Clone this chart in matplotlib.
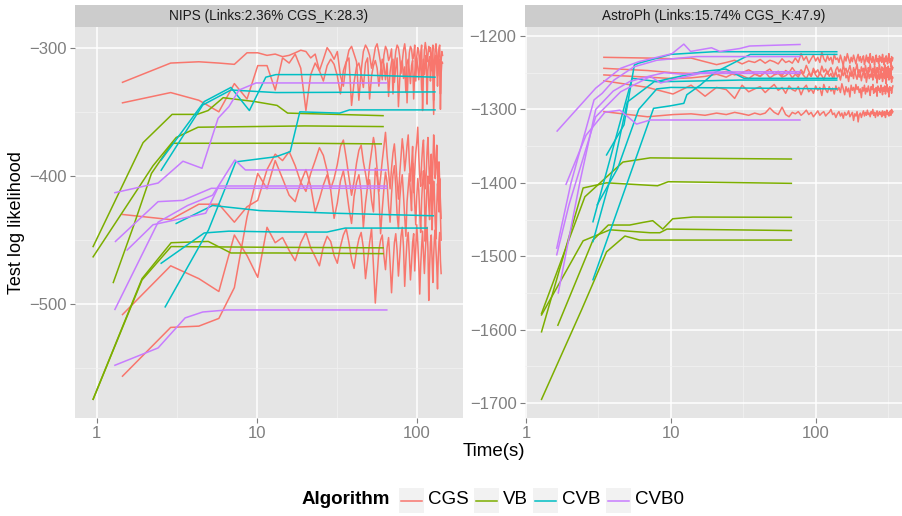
import numpy as np
import matplotlib
matplotlib.use('Agg')
import matplotlib.pyplot as plt
from matplotlib.patches import Rectangle
from matplotlib.lines import Line2D
from matplotlib.ticker import FuncFormatter, NullFormatter

plt.rcParams['font.family'] = ['Liberation Sans', 'DejaVu Sans']

# === Algorithms / colours ===
ALGOS = ['CGS', 'VB', 'CVB', 'CVB0']
COLORS = {'CGS': '#F8766D', 'VB': '#7CAE00', 'CVB': '#00BFC4', 'CVB0': '#C77CFF'}

# === NIPS panel ===
# CGS runs: one value per iteration, iterations every nips_cgs_dt seconds
nips_cgs_dt = 1.45
nips_cgs_1 = [-327, -312, -311, -312, -313, -304, -304, -306, -305, -307,
              -306, -304, -302, -303, -308, -305, -318, -309, -300, -304,
              -309, -303, -322, -330, -312, -302, -299, -305, -311, -341,
              -318, -303, -298, -301, -306, -316, -309, -300, -297, -304,
              -312, -325, -306, -299, -302, -310, -307, -301, -336, -314,
              -303, -298, -300, -307, -320, -311, -302, -297, -305, -343,
              -318, -304, -299, -301, -309, -306, -298, -326, -307, -300,
              -303, -314, -305, -298, -349, -320, -302, -296, -301, -311,
              -306, -299, -303, -300, -318, -305, -298, -341, -312, -301,
              -297, -304, -322, -308, -300, -298, -336, -310, -303, -306]
nips_cgs_2 = [-343, -335, -341, -350, -328, -340, -314, -314, -333, -308,
              -312, -305, -316, -349, -321, -312, -318, -326, -314, -309,
              -313, -322, -336, -318, -311, -308, -345, -327, -315, -312,
              -320, -331, -312, -308, -340, -322, -314, -310, -316, -330,
              -318, -309, -313, -325, -312, -338, -319, -311, -309, -327,
              -316, -308, -346, -325, -313, -310, -324, -315, -335, -312,
              -309, -318, -328, -314, -310, -340, -320, -312, -308, -315,
              -325, -313, -310, -333, -316, -309, -321, -312, -306, -344,
              -318, -310, -307, -326, -313, -308, -320, -352, -322, -311,
              -306, -314, -330, -316, -309, -312, -348, -320, -311, -312]
nips_cgs_3 = [-430, -434, -422, -422, -436, -424, -419, -395, -383, -388,
              -381, -392, -405, -412, -398, -388, -378, -384, -396, -410,
              -402, -391, -377, -372, -386, -401, -415, -404, -390, -380,
              -376, -389, -398, -408, -392, -381, -370, -378, -395, -412,
              -401, -388, -377, -366, -384, -397, -410, -394, -382, -375,
              -389, -404, -418, -398, -385, -371, -380, -396, -387, -376,
              -368, -389, -404, -392, -377, -413, -396, -382, -374, -362,
              -384, -400, -408, -390, -378, -372, -395, -410, -399, -381,
              -370, -388, -406, -396, -383, -415, -392, -368, -380, -402,
              -391, -376, -398, -412, -389, -405, -420, -433]
nips_cgs_4 = [-508, -470, -480, -490, -446, -462, -479, -440, -452, -448,
              -458, -466, -452, -444, -456, -463, -470, -455, -447, -451,
              -462, -468, -455, -446, -441, -452, -465, -472, -458, -449,
              -444, -456, -480, -466, -452, -441, -470, -499, -478, -458,
              -450, -446, -462, -473, -456, -448, -468, -491, -470, -452,
              -445, -458, -478, -463, -447, -440, -455, -486, -466, -450,
              -444, -462, -481, -468, -452, -445, -474, -457, -438, -452,
              -468, -492, -470, -455, -443, -461, -476, -459, -447, -440,
              -456, -497, -471, -452, -446, -465, -483, -462, -448, -442,
              -458, -470, -488, -463, -451, -444, -466, -476]
nips_cgs_5 = [-556, -518, -517, -511, -487, -432, -398, -410, -388, -402,
              -415, -420, -405, -395, -408, -428, -418, -407, -399, -411,
              -433, -421, -404, -396, -409, -425, -437, -416, -405, -399,
              -412, -440, -421, -408, -403, -419, -428, -394, -401, -415,
              -445, -426, -410, -397, -405, -423, -436, -414, -399, -392,
              -408, -430, -441, -418, -406, -399, -415, -432, -447, -420,
              -409, -398, -413, -427, -390, -404, -422, -438, -416, -402,
              -411, -429, -444, -419, -405, -396, -414, -451, -425, -408,
              -400, -423, -434, -410, -395, -442, -421, -404, -416, -437,
              -449, -424, -406, -413, -428, -402, -431, -450]

nips_vb_1_t = [0.95, 1.95, 2.96, 4.24, 4.97, 6.17, 9.7, 13.4, 15.6, 31.6, 61.6]
nips_vb_1_y = [-455, -374, -352, -352, -349, -339, -342, -345, -351, -352, -353]
nips_vb_2_t = [0.95, 2.25, 3.14, 4.3, 20, 61.6]
nips_vb_2_y = [-463, -392, -370, -362, -361, -361.5]
nips_vb_3_t = [1.27, 1.71, 2.2, 2.96, 20, 60]
nips_vb_3_y = [-483, -438, -398, -374.5, -374.5, -375]
nips_vb_4_t = [0.95, 1.92, 2.92, 4.98, 6.9, 13.3, 61.6]
nips_vb_4_y = [-574, -480, -452, -451, -460, -460, -460.5]
nips_vb_5_t = [0.95, 1.92, 2.92, 10, 61.6]
nips_vb_5_y = [-574, -481, -455, -455.5, -456]

nips_cvb_1_t = [2.53, 4.6, 6.9, 13.2, 130]
nips_cvb_1_y = [-395.5, -344.7, -333, -335, -334.5]
nips_cvb_2_t = [2.53, 4.7, 6.9, 9.0, 11.4, 13.2, 36.6, 130]
nips_cvb_2_y = [-387.5, -342, -331, -349, -323, -321, -321, -323]
nips_cvb_3_t = [2.68, 5.0, 7.4, 13.2, 16.2, 18.6, 33, 38, 130]
nips_cvb_3_y = [-502, -442, -389, -385, -381, -350, -351, -348.5, -348.5]
nips_cvb_4_t = [3.14, 5.3, 10.5, 30, 127]
nips_cvb_4_y = [-437, -423, -427, -429, -431]
nips_cvb_5_t = [2.53, 4.7, 6.7, 13.2, 27.5, 35.7, 116]
nips_cvb_5_y = [-468, -444.4, -443, -443.6, -443.7, -440.6, -440.6]

nips_cvb0_1_t = [1.3, 2.42, 3.46, 4.55, 5.74, 6.7, 7.76, 9.9, 65]
nips_cvb0_1_y = [-413, -405.5, -388.5, -394, -355, -346, -333, -327.5, -327.5]
nips_cvb0_2_t = [1.31, 2.42, 3.46, 5.2, 6.5, 65]
nips_cvb0_2_y = [-451, -420, -419, -409.6, -409.6, -409.6]
nips_cvb0_3_t = [1.55, 2.25, 4.8, 5.8, 65]
nips_cvb0_3_y = [-457.7, -438, -429, -407.8, -407.8]
nips_cvb0_4_t = [1.3, 2.42, 3.7, 5.3, 7.3, 8.5, 65]
nips_cvb0_4_y = [-504, -436, -423, -415, -387.5, -395.3, -395.3]
nips_cvb0_5_t = [1.3, 2.42, 3.57, 4.6, 6.5, 65]
nips_cvb0_5_y = [-547.5, -534, -510.6, -506, -504.4, -504.4]

# === AstroPh panel ===
astro_cgs_dt = 3.45
astro_cgs_1 = [-1229, -1230, -1231, -1230, -1235, -1239,
               -1236, -1233, -1238, -1234, -1236, -1232, -1237, -1233, -1235, -1238, -1231, -1236, -1234, -1237,
               -1230, -1236, -1224, -1233, -1228, -1237, -1231, -1226, -1234, -1229, -1236, -1222, -1231, -1235, -1227, -1233, -1229, -1238, -1225, -1232,
               -1230, -1236, -1226, -1233, -1240, -1228, -1234, -1224, -1231, -1237, -1229, -1235, -1226, -1232, -1238, -1230, -1225, -1234, -1228, -1236,
               -1231, -1227, -1239, -1233, -1226, -1235, -1229, -1237, -1224, -1232, -1236, -1228, -1233, -1240, -1230, -1226, -1235, -1231, -1238, -1227,
               -1234, -1229, -1236, -1225, -1232, -1239, -1230, -1235, -1227, -1233, -1238, -1229, -1224, -1236, -1231, -1242, -1228, -1234, -1230]
astro_cgs_2 = [-1244, -1247, -1250, -1251, -1249, -1252,
               -1248, -1253, -1250, -1246, -1251, -1255, -1249, -1245, -1252, -1248, -1254, -1247, -1250, -1243,
               -1249, -1253, -1246, -1251, -1240, -1248, -1255, -1244, -1250, -1246, -1253, -1241, -1249, -1245, -1252, -1247, -1243, -1250, -1256, -1246,
               -1242, -1249, -1245, -1252, -1239, -1247, -1244, -1251, -1246, -1240, -1248, -1254, -1243, -1249, -1245, -1238, -1250, -1246, -1253, -1242,
               -1248, -1244, -1251, -1240, -1247, -1255, -1243, -1249, -1238, -1246, -1252, -1244, -1250, -1241, -1247, -1257, -1243, -1249, -1245, -1239,
               -1248, -1253, -1242, -1247, -1244, -1251, -1239, -1246, -1256, -1243, -1249, -1241, -1248, -1254, -1244, -1250, -1240, -1246, -1243]
astro_cgs_3 = [-1253, -1256, -1258, -1257, -1255, -1252,
               -1256, -1250, -1254, -1258, -1252, -1255, -1249, -1257, -1253, -1251, -1256, -1254, -1250, -1257,
               -1252, -1256, -1249, -1254, -1258, -1251, -1255, -1247, -1253, -1257, -1250, -1254, -1259, -1252, -1248, -1255, -1251, -1257, -1253, -1249,
               -1256, -1252, -1260, -1250, -1254, -1247, -1257, -1253, -1262, -1249, -1255, -1251, -1258, -1246, -1254, -1259, -1250, -1256, -1252, -1261,
               -1253, -1248, -1257, -1251, -1263, -1255, -1249, -1258, -1252, -1256, -1246, -1260, -1253, -1250, -1257, -1251, -1264, -1254, -1248, -1259,
               -1252, -1257, -1250, -1262, -1255, -1248, -1258, -1253, -1265, -1251, -1256, -1249, -1260, -1254, -1258, -1250, -1263, -1255, -1257]
astro_cgs_4 = [-1261, -1270, -1279, -1267, -1282, -1270,
               -1273, -1285, -1267, -1276, -1272, -1269, -1277, -1271, -1266, -1274, -1270, -1278, -1268, -1273,
               -1275, -1269, -1280, -1271, -1267, -1276, -1272, -1278, -1268, -1274, -1270, -1281, -1266, -1273, -1277, -1269, -1275, -1271, -1279, -1268,
               -1274, -1270, -1277, -1265, -1272, -1280, -1269, -1276, -1271, -1283, -1267, -1274, -1270, -1278, -1266, -1273, -1269, -1277, -1272, -1284,
               -1270, -1275, -1267, -1279, -1271, -1276, -1268, -1274, -1281, -1269, -1273, -1266, -1278, -1272, -1276, -1270, -1282, -1268, -1274, -1271,
               -1277, -1267, -1273, -1280, -1270, -1275, -1268, -1279, -1272, -1266, -1276, -1271, -1283, -1269, -1274, -1270, -1278, -1272, -1268]
astro_cgs_5 = [-1303, -1310, -1307, -1306, -1308, -1305,
               -1307, -1304, -1306, -1308, -1305, -1307, -1305, -1298, -1304, -1307, -1297, -1307, -1310, -1304,
               -1306, -1303, -1308, -1305, -1301, -1307, -1304, -1310, -1306, -1302, -1308, -1305, -1303, -1309, -1306, -1304, -1300, -1307, -1305, -1311,
               -1306, -1303, -1309, -1305, -1312, -1304, -1308, -1306, -1302, -1310, -1307, -1304, -1315, -1306, -1309, -1303, -1317, -1307, -1305, -1311,
               -1306, -1302, -1309, -1304, -1308, -1301, -1307, -1305, -1310, -1303, -1306, -1300, -1308, -1304, -1311, -1305, -1302, -1309, -1306, -1303,
               -1307, -1304, -1310, -1302, -1306, -1308, -1303, -1311, -1305, -1301, -1307, -1304, -1309, -1306, -1302, -1308, -1300, -1305, -1303]

astro_vb_1_t = [1.28, 2.55, 4.67, 7.2, 68]
astro_vb_1_y = [-1578, -1419, -1371.7, -1366, -1367.6]
astro_vb_2_t = [1.28, 2.48, 3.6, 8.1, 9.6, 68]
astro_vb_2_y = [-1603, -1407, -1400, -1404, -1398.5, -1400.7]
astro_vb_3_t = [1.66, 2.9, 3.7, 5.2, 6.4, 7.5, 8.8, 10.3, 14.2, 68]
astro_vb_3_y = [-1594, -1478, -1457.5, -1457.5, -1454, -1451.6, -1463, -1449, -1446.6, -1447]
astro_vb_4_t = [1.28, 2.48, 3.8, 7.2, 8.4, 9.4, 68]
astro_vb_4_y = [-1580, -1479, -1464, -1468, -1468, -1463, -1465]
astro_vb_5_t = [1.28, 2.42, 3.6, 4.82, 6.1, 68]
astro_vb_5_y = [-1695, -1573, -1494, -1472.5, -1478, -1478]

astro_cvb_1_t = [3.6, 4.75, 5.6, 6.0, 10, 19.8, 140]
astro_cvb_1_y = [-1362, -1321, -1239.5, -1237, -1225, -1221.4, -1221.4]
astro_cvb_2_t = [2.9, 7.6, 10, 12.3, 12.9, 16, 20, 35.4, 140]
astro_cvb_2_y = [-1532, -1298.5, -1295, -1291.7, -1280, -1266.8, -1250, -1225, -1225]
astro_cvb_3_t = [2.9, 5.4, 8.0, 10, 17, 24, 32, 140]
astro_cvb_3_y = [-1453, -1257.6, -1262, -1257.6, -1248, -1245, -1257.6, -1257.6]
astro_cvb_4_t = [2.9, 4.0, 5.0, 7.7, 10, 30, 140]
astro_cvb_4_y = [-1480, -1380, -1290, -1262, -1262, -1260, -1260]
astro_cvb_5_t = [3.1, 4.3, 6.0, 8.0, 10, 140]
astro_cvb_5_y = [-1430, -1380, -1300, -1272, -1270, -1272]

astro_cvb0_1_t = [1.64, 3.03, 4.5, 6.0, 10.2, 12.3, 13.7, 19.1, 21.8, 30, 35, 78]
astro_cvb0_1_y = [-1329.5, -1271, -1244, -1235, -1224, -1211, -1221, -1216, -1221, -1217, -1213.6, -1211.5]
astro_cvb0_2_t = [1.63, 2.04, 2.95, 3.36, 4.05, 5.56, 8.0, 15, 78]
astro_cvb0_2_y = [-1489, -1401, -1287, -1278, -1260, -1242, -1233, -1228, -1228]
astro_cvb0_3_t = [1.63, 1.98, 3.03, 4.5, 7.25, 8.5, 11, 16, 78]
astro_cvb0_3_y = [-1498, -1430, -1310, -1276, -1255, -1264, -1258, -1251, -1250.8]
astro_cvb0_4_t = [1.67, 2.35, 3.03, 4.0, 5.2, 7, 9, 12, 20, 78]
astro_cvb0_4_y = [-1550, -1400, -1300, -1275, -1262, -1255, -1250, -1252, -1249, -1248.6]
astro_cvb0_5_t = [1.89, 2.6, 3.5, 4.45, 5.8, 7.2, 78]
astro_cvb0_5_y = [-1402, -1335, -1304, -1301, -1320, -1314.4, -1314.4]


def cgs_run(dt, values):
    t = dt * np.arange(1, len(values) + 1)
    return ('CGS', t, values)


nips_series = [cgs_run(nips_cgs_dt, v) for v in
               [nips_cgs_1, nips_cgs_2, nips_cgs_3, nips_cgs_4, nips_cgs_5]]
nips_series += [
    ('VB', nips_vb_1_t, nips_vb_1_y), ('VB', nips_vb_2_t, nips_vb_2_y),
    ('VB', nips_vb_3_t, nips_vb_3_y), ('VB', nips_vb_4_t, nips_vb_4_y),
    ('VB', nips_vb_5_t, nips_vb_5_y),
    ('CVB', nips_cvb_1_t, nips_cvb_1_y), ('CVB', nips_cvb_2_t, nips_cvb_2_y),
    ('CVB', nips_cvb_3_t, nips_cvb_3_y), ('CVB', nips_cvb_4_t, nips_cvb_4_y),
    ('CVB', nips_cvb_5_t, nips_cvb_5_y),
    ('CVB0', nips_cvb0_1_t, nips_cvb0_1_y), ('CVB0', nips_cvb0_2_t, nips_cvb0_2_y),
    ('CVB0', nips_cvb0_3_t, nips_cvb0_3_y), ('CVB0', nips_cvb0_4_t, nips_cvb0_4_y),
    ('CVB0', nips_cvb0_5_t, nips_cvb0_5_y),
]

astro_series = [cgs_run(astro_cgs_dt, v) for v in
                [astro_cgs_1, astro_cgs_2, astro_cgs_3, astro_cgs_4, astro_cgs_5]]
astro_series += [
    ('VB', astro_vb_1_t, astro_vb_1_y), ('VB', astro_vb_2_t, astro_vb_2_y),
    ('VB', astro_vb_3_t, astro_vb_3_y), ('VB', astro_vb_4_t, astro_vb_4_y),
    ('VB', astro_vb_5_t, astro_vb_5_y),
    ('CVB', astro_cvb_1_t, astro_cvb_1_y), ('CVB', astro_cvb_2_t, astro_cvb_2_y),
    ('CVB', astro_cvb_3_t, astro_cvb_3_y), ('CVB', astro_cvb_4_t, astro_cvb_4_y),
    ('CVB', astro_cvb_5_t, astro_cvb_5_y),
    ('CVB0', astro_cvb0_1_t, astro_cvb0_1_y), ('CVB0', astro_cvb0_2_t, astro_cvb0_2_y),
    ('CVB0', astro_cvb0_3_t, astro_cvb0_3_y), ('CVB0', astro_cvb0_4_t, astro_cvb0_4_y),
    ('CVB0', astro_cvb0_5_t, astro_cvb0_5_y),
]

# === Layout (pixel boxes) ===
W, H = 902, 516
fig = plt.figure(figsize=(W / 100, H / 100), dpi=100)


def box(x0, y0, x1, y1):
    return [x0 / W, 1 - y1 / H, (x1 - x0) / W, (y1 - y0) / H]


minus_fmt = FuncFormatter(lambda v, p: f'{v:.0f}'.replace('-', '\u2212'))


def draw_panel(rect, strip_rect, title, series, xlim, ylim, yticks, yminor, xminor):
    ax = fig.add_axes(rect)
    for algo, t, y in series:
        ax.plot(t, y, color=COLORS[algo], lw=1.1, solid_joinstyle='round')
    ax.set_xscale('log')
    ax.set_xlim(xlim)
    ax.set_ylim(ylim)
    ax.set_facecolor('#E5E5E5')
    for s in ax.spines.values():
        s.set_visible(False)
    ax.set_xticks([1, 10, 100])
    ax.set_xticklabels(['1', '10', '100'])
    ax.set_xticks(xminor, minor=True)
    ax.xaxis.set_minor_formatter(NullFormatter())
    ax.set_yticks(yticks)
    ax.set_yticks(yminor, minor=True)
    ax.yaxis.set_major_formatter(minus_fmt)
    ax.grid(which='major', color='white', lw=1.1)
    ax.grid(which='minor', color='#F2F2F2', lw=0.5)
    ax.set_axisbelow(True)
    ax.tick_params(which='major', length=3.6, width=0.8, color='#7F7F7F',
                   labelcolor='#7F7F7F', labelsize=12)
    ax.tick_params(axis='x', which='major', pad=2.5)
    ax.tick_params(axis='y', which='major', pad=2.5)
    ax.tick_params(which='minor', length=0)

    sax = fig.add_axes(strip_rect)
    sax.set_facecolor('#CCCCCC')
    sax.set_xticks([])
    sax.set_yticks([])
    for s in sax.spines.values():
        s.set_visible(False)
    sax.text(0.5, 0.48, title, ha='center', va='center', fontsize=9.8,
             color='#1A1A1A', transform=sax.transAxes)
    return ax


draw_panel(box(75, 27, 463, 418), box(75, 5, 463, 26.5),
           'NIPS (Links:2.36% CGS_K:28.3)', nips_series,
           (0.732, 194.6), (-588.6, -283.9),
           [-500, -400, -300], [-550, -450, -350], [10 ** 0.5, 10 ** 1.5])

draw_panel(box(525, 27, 902, 418), box(525, 5, 902, 26.5),
           'AstroPh (Links:15.74% CGS_K:47.9)', astro_series,
           (0.984, 395), (-1720.4, -1187.7),
           [-1700, -1600, -1500, -1400, -1300, -1200],
           [-1650, -1550, -1450, -1350, -1250], [10 ** 0.5, 10 ** 1.5, 10 ** 2.5])

# axis titles
fig.text(494 / W, 1 - 452 / H, 'Time(s)', ha='center', va='center', fontsize=13.5)
fig.text(17 / W, 1 - 223 / H, 'Test log likelihood', ha='center', va='center',
         rotation=90, fontsize=13)

# legend (bottom)
fig.text(302 / W, 1 - 500 / H, 'Algorithm', ha='left', va='center',
         fontsize=13.5, fontweight='bold')
key_x = [399, 474, 533, 606]
for algo, kx in zip(ALGOS, key_x):
    fig.patches.append(Rectangle((kx / W, 1 - 513 / H), 25 / W, 25 / H,
                                 transform=fig.transFigure, facecolor='#F2F2F2',
                                 edgecolor='none'))
    fig.lines.append(Line2D([(kx + 2) / W, (kx + 23) / W], [1 - 500.5 / H] * 2,
                            transform=fig.transFigure, color=COLORS[algo], lw=1.1))
    fig.text((kx + 29) / W, 1 - 500 / H, algo, ha='left', va='center', fontsize=13.5)

fig.savefig('out.png', dpi=100)
